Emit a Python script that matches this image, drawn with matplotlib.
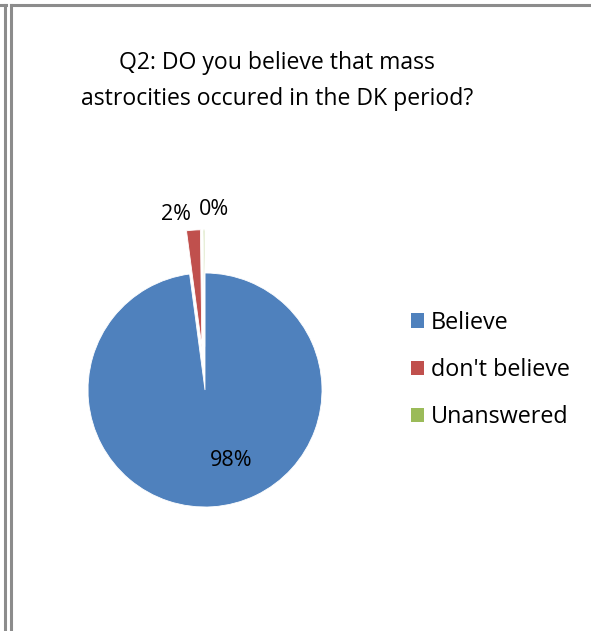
import matplotlib
matplotlib.use('Agg')
import matplotlib.pyplot as plt
from matplotlib.lines import Line2D
from matplotlib.patches import Patch

plt.rcParams['font.family'] = ['Open Sans', 'DejaVu Sans']

# Data
labels = ['Believe', "don't believe", 'Unanswered']
values = [97.9, 1.9, 0.2]
shown_pct = ['98%', '2%', '0%']
colors = ['#4F81BD', '#C0504D', '#9BBB59']
explode = [0, 0.37, 0.37]

W, H = 591, 631
fig = plt.figure(figsize=(W / 100, H / 100), dpi=100)

# frame lines (page borders)
def hline(y, x0, x1, lw=2.2, c='#8c8c8c'):
    fig.add_artist(Line2D([x0 / W, x1 / W], [1 - y / H, 1 - y / H], color=c, lw=lw))

def vline(x, y0, y1, lw=2.2, c='#8c8c8c'):
    fig.add_artist(Line2D([x / W, x / W], [1 - y0 / H, 1 - y1 / H], color=c, lw=lw))

hline(5, 0, 5.5)
vline(5, 5, H)
hline(4.5, 11, W)
vline(11, 4.5, H)

# pie axes: centre (205, 390), radius 117 px
R = 117
cx, cy = 205, 390
lim = 1.6
size = 2 * lim * R
ax = fig.add_axes([(cx - size / 2) / W, 1 - (cy + size / 2) / H, size / W, size / H])
wedges, _ = ax.pie(values, colors=colors, explode=explode, startangle=90,
                   counterclock=False, radius=1,
                   wedgeprops=dict(edgecolor='white', linewidth=0.6))
ax.set_xlim(-lim, lim)
ax.set_ylim(-lim, lim)
ax.set_aspect('equal')
ax.axis('off')

label_pos = [(0.22, -0.60), (-0.25, 1.50), (0.08, 1.54)]
for txt, (x, y) in zip(shown_pct, label_pos):
    ax.text(x, y, txt, ha='center', va='center', fontsize=15.5, color='black')

fig.text(277 / W, 1 - 81 / H,
         'Q2: DO you believe that mass\nastrocities occured in the DK period?',
         ha='center', va='center', fontsize=16.6, linespacing=1.62)

handles = [Patch(facecolor=c, edgecolor='none') for c in colors]
fig.legend(handles, labels, loc='center left', bbox_to_anchor=(399 / W, 1 - 370 / H),
           frameon=False, fontsize=16.8, handlelength=0.56, handleheight=0.56,
           handletextpad=0.3, labelspacing=1.0, borderpad=0)

fig.savefig('out.png', dpi=100)
